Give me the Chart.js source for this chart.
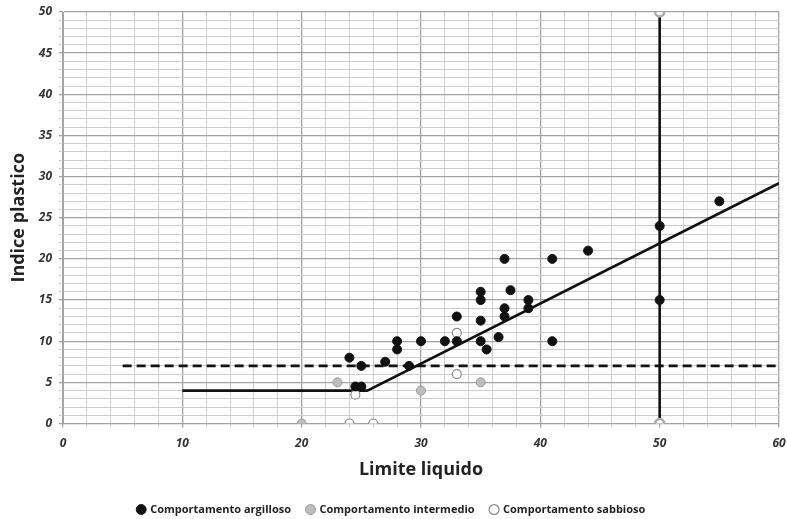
<!DOCTYPE html>
<html lang="it">
<head>
<meta charset="UTF-8">
<title>Carta di plasticità</title>
<script src="https://cdn.jsdelivr.net/npm/chart.js@4.4.0/dist/chart.umd.min.js"></script>
<style>
    body { margin: 0; background: #fff; }
</style>
</head>
<body>
<canvas id="chart" width="787" height="519"></canvas>
<script>
// values
const argillosoX = [24, 25, 24.5, 25, 27, 28, 28, 29, 30, 32, 33, 33, 35, 35, 35, 35, 35.5, 36.5, 37, 37, 37, 37.5, 39, 39, 41, 41, 44, 50, 50, 55];
const argillosoY = [8, 7, 4.5, 4.5, 7.5, 10, 9, 7, 10, 10, 13, 10, 16, 15, 12.5, 10, 9, 10.5, 20, 14, 13, 16.2, 15, 14, 20, 10, 21, 24, 15, 27];
const intermedioX = [20, 23, 30, 35];
const intermedioY = [0, 5, 4, 5];
const sabbiosoX = [24, 24.5, 26, 33, 33];
const sabbiosoY = [0, 3.5, 0, 11, 6];

const lineaAX = [10, 25.5, 60];
const lineaAY = [4, 4, 29.2];
const trattX = [5, 60];
const trattY = [7, 7];
const vertX = [50, 50];
const vertY = [0, 50];

const seriesNames = ['Comportamento argilloso', 'Comportamento intermedio', 'Comportamento sabbioso'];

function pts(xs, ys) {
    return xs.map((x, i) => ({ x: x, y: ys[i] }));
}

const tickFont = { family: '"Open Sans", sans-serif', size: 12, weight: 'bold', style: 'italic' };
const titleFont = { family: '"Open Sans", sans-serif', size: 18, weight: 'bold' };

new Chart(document.getElementById('chart'), {
    type: 'scatter',
    data: {
        datasets: [
            { label: seriesNames[0], data: pts(argillosoX, argillosoY), pointRadius: 4.5, backgroundColor: '#111', borderColor: '#111', borderWidth: 1 },
            { label: seriesNames[1], data: pts(intermedioX, intermedioY), pointRadius: 4.5, backgroundColor: '#bdbdbd', borderColor: '#999', borderWidth: 1 },
            { label: seriesNames[2], data: pts(sabbiosoX, sabbiosoY), pointRadius: 4.5, backgroundColor: '#fff', borderColor: '#888', borderWidth: 1.2 },
            { label: 'linea A', data: pts(lineaAX, lineaAY), showLine: true, borderColor: '#111', borderWidth: 2.6, pointRadius: 0 },
            { label: 'tratteggio', data: pts(trattX, trattY), showLine: true, borderColor: '#111', borderWidth: 2.6, borderDash: [9, 5], pointRadius: 0 },
            { label: 'LL 50', data: pts(vertX, vertY), showLine: true, borderColor: '#111', borderWidth: 2.6, pointRadius: 4.5, backgroundColor: '#fff', pointBorderColor: '#aaa' }
        ]
    },
    options: {
        responsive: false,
        animation: false,
        devicePixelRatio: 1,
        layout: { padding: { top: 10, right: 4, left: 0, bottom: -6 } },
        plugins: {
            tooltip: { enabled: false },
            legend: {
                position: 'bottom',
                labels: {
                    filter: item => item.datasetIndex < 3,
                    usePointStyle: true,
                    pointStyle: 'circle',
                    boxWidth: 7,
                    boxHeight: 7,
                    padding: 16,
                    color: '#222',
                    font: { family: '"Open Sans", sans-serif', size: 11, weight: 'bold' }
                }
            }
        },
        scales: {
            x: {
                type: 'linear',
                min: 0, max: 60,
                afterFit: s => { s.height = 64.5; s.paddingRight = 8; },
                ticks: {
                    stepSize: 2,
                    autoSkip: false,
                    maxRotation: 0,
                    color: '#333',
                    font: tickFont,
                    padding: 9,
                    callback: v => (v % 10 === 0 ? v : '')
                },
                grid: {
                    color: c => (c.tick && c.tick.value % 10 === 0 ? '#a3a3a3' : '#cdcdcd'),
                    lineWidth: c => (c.tick && c.tick.value % 10 === 0 ? 1.3 : 1),
                    tickLength: 4
                },
                border: { color: '#a3a3a3' },
                title: { display: true, text: 'Limite liquido', color: '#222', font: titleFont, padding: { top: 0, bottom: 7 } }
            },
            y: {
                type: 'linear',
                min: 0, max: 50,
                afterFit: s => { s.width = 63; s.paddingTop = 12; },
                ticks: {
                    stepSize: 1,
                    autoSkip: false,
                    color: '#333',
                    font: tickFont,
                    padding: 7,
                    callback: v => (v % 5 === 0 ? v : '')
                },
                grid: {
                    color: c => (c.tick && c.tick.value % 5 === 0 ? '#a3a3a3' : '#cdcdcd'),
                    lineWidth: c => (c.tick && c.tick.value % 5 === 0 ? 1.3 : 1),
                    tickLength: 4
                },
                border: { color: '#a3a3a3' },
                title: { display: true, text: 'Indice plastico', color: '#222', font: titleFont, padding: { top: 8, bottom: 0 } }
            }
        }
    }
});
</script>
</body>
</html>
